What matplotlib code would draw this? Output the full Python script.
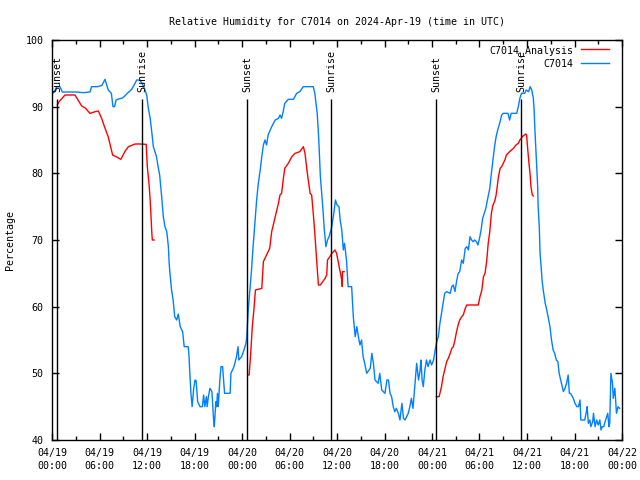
import numpy as np
import matplotlib
matplotlib.use("Agg")
import matplotlib.pyplot as plt

title = "Relative Humidity for C7014 on 2024-Apr-19 (time in UTC)"
ylabel = "Percentage"
tick_hours = list(range(0, 73, 6))
tick_labels = ["04/19\n00:00", "04/19\n06:00", "04/19\n12:00", "04/19\n18:00",
               "04/20\n00:00", "04/20\n06:00", "04/20\n12:00", "04/20\n18:00",
               "04/21\n00:00", "04/21\n06:00", "04/21\n12:00", "04/21\n18:00",
               "04/22\n00:00"]
sun_hours = [0.67, 11.4, 24.67, 35.28, 48.54, 59.28]
sun_labels = ["Sunset", "Sunrise", "Sunset", "Sunrise", "Sunset", "Sunrise"]

# C7014 observed (hours since 04/19 00:00 UTC, %)
blue_h = [0.1, 0.25, 0.6, 1.0, 1.3, 1.85, 3.0, 4.0, 4.8, 5.0, 5.8, 6.3, 6.7, 6.9, 7.1, 7.5, 7.7, 7.9,
          8.1, 8.4, 8.9, 9.2, 9.5, 9.8, 10.06, 10.4, 10.7, 11.1, 11.5, 11.75, 11.96, 12.17, 12.4, 12.6,
          12.8, 13.2, 13.4, 13.6, 13.85, 14.06, 14.27, 14.5, 14.7, 14.8, 14.9, 15.1, 15.3, 15.5, 15.75,
          15.95, 16.2, 16.5, 16.7, 17.2, 17.3, 17.4, 17.55, 17.7, 17.9, 18.06, 18.2, 18.4, 18.7, 19.0,
          19.15, 19.3, 19.5, 19.6, 19.75, 19.95, 20.2, 20.4, 20.5, 20.7, 20.8, 20.9, 21.0, 21.2, 21.35,
          21.55, 21.8, 22.5, 22.6, 22.9, 23.1, 23.3, 23.5, 23.6, 23.95, 24.25, 24.5, 24.6, 24.8, 25.0,
          25.2, 25.4, 25.65, 25.85, 26.06, 26.3, 26.5, 26.7, 26.9, 27.1, 27.3, 27.75, 28.2, 28.6, 28.8,
          29.0, 29.2, 29.4, 29.85, 30.5, 30.9, 31.3, 31.75, 33.0, 33.2, 33.5, 33.7, 33.9, 34.2, 34.4,
          34.6, 34.8, 35.0, 35.3, 35.6, 35.8, 36.0, 36.25, 36.4, 36.6, 36.8, 36.95, 37.2, 37.4, 37.85,
          38.06, 38.3, 38.5, 38.7, 38.9, 39.1, 39.3, 39.5, 39.75, 40.2, 40.4, 40.6, 40.8, 41.2, 41.4,
          41.65, 42.06, 42.3, 42.5, 42.7, 42.9, 43.1, 43.3, 43.5, 43.75, 43.95, 44.2, 44.4, 44.6, 44.8,
          45.0, 45.2, 45.4, 45.6, 45.85, 46.06, 46.3, 46.5, 46.6, 46.75, 46.9, 47.1, 47.3, 47.5, 47.75,
          47.95, 48.2, 48.4, 48.6, 48.8, 49.0, 49.2, 49.4, 49.6, 49.85, 50.3, 50.5, 50.7, 50.9, 51.1,
          51.3, 51.5, 51.75, 51.95, 52.2, 52.4, 52.6, 52.8, 53.0, 53.2, 53.4, 53.6, 53.8, 54.0, 54.2,
          54.4, 54.6, 54.8, 55.0, 55.3, 55.5, 55.7, 55.9, 56.1, 56.3, 56.6, 56.8, 57.0, 57.6, 57.8,
          58.0, 58.7, 58.9, 59.1, 59.3, 59.7, 59.9, 60.2, 60.4, 60.6, 60.8, 60.9, 61.0, 61.2, 61.35,
          61.4, 61.55, 61.65, 61.8, 61.9, 62.05, 62.3, 62.5, 62.7, 62.9, 63.1, 63.3, 63.5, 63.7, 63.9,
          64.06, 64.3, 64.45, 64.6, 64.8, 65.0, 65.2, 65.35, 65.5, 65.85, 66.06, 66.3, 66.5, 66.7,
          66.8, 67.3, 67.5, 67.6, 67.75, 67.95, 68.06, 68.3, 68.4, 68.6, 68.8, 69.0, 69.2, 69.35, 69.5,
          69.7, 69.8, 70.06, 70.2, 70.35, 70.45, 70.6, 70.8, 70.9, 71.1, 71.3, 71.5, 71.7]
blue_v = [92.0, 92.2, 93.0, 93.0, 92.2, 92.2, 92.2, 92.1, 92.2, 93.0, 93.0, 93.2, 94.1, 93.3, 92.5, 92.0, 90.0, 90.0,
          91.0, 91.15, 91.3, 91.6, 92.0, 92.3, 92.6, 93.3, 94.0, 94.0, 93.2, 92.5, 91.75, 89.75, 88.25, 86.25,
          84.0, 82.5, 81.0, 79.75, 76.5, 73.5, 72.0, 71.25, 69.0, 66.5, 65.0, 62.5, 61.0, 58.5, 58.0,
          58.9, 57.0, 56.25, 54.0, 54.0, 52.75, 50.25, 47.0, 45.0, 47.75, 49.0, 48.9, 45.75, 45.0, 45.0,
          46.75, 45.0, 46.5, 45.0, 46.5, 47.75, 47.25, 43.25, 42.0, 45.75, 45.0, 47.0, 45.0, 49.0, 51.0,
          51.0, 47.0, 47.0, 50.0, 50.75, 51.5, 52.5, 54.0, 52.0, 52.5, 53.5, 54.5, 55.5, 59.75, 62.5,
          65.5, 69.0, 73.0, 76.0, 78.5, 80.5, 82.5, 84.25, 85.0, 84.25, 85.75, 87.0, 88.0, 88.25, 88.75,
          88.25, 89.25, 90.5, 91.1, 91.1, 92.0, 92.25, 93.0, 93.0, 92.0, 89.0, 85.0, 79.5, 75.0, 71.5,
          69.0, 70.0, 70.5, 71.75, 74.0, 76.0, 75.25, 75.0, 73.0, 71.5, 68.5, 69.5, 67.0, 63.0, 63.0,
          58.5, 55.5, 57.0, 55.5, 54.25, 55.0, 52.5, 51.5, 50.0, 50.75, 53.0, 51.5, 49.0, 48.5, 50.0,
          47.5, 47.0, 49.0, 49.0, 47.0, 46.5, 45.0, 44.25, 44.75, 44.0, 43.0, 45.5, 43.25, 43.0, 43.5,
          44.0, 45.0, 46.25, 44.75, 48.5, 51.5, 49.0, 50.5, 52.0, 49.0, 48.0, 50.5, 52.0, 51.0, 52.0,
          51.25, 52.0, 53.5, 54.75, 55.5, 57.5, 59.0, 60.5, 62.0, 62.25, 62.0, 63.0, 63.25, 62.25, 63.75,
          65.0, 65.25, 67.0, 66.5, 68.75, 69.0, 68.5, 70.5, 70.0, 69.75, 70.0, 69.75, 69.25, 70.25, 71.5,
          73.25, 74.0, 74.75, 76.0, 77.75, 80.0, 82.0, 84.0, 85.5, 86.5, 87.75, 88.75, 89.0, 89.0, 88.0,
          89.0, 89.0, 90.0, 91.25, 92.0, 92.0, 92.5, 92.25, 93.0, 92.5, 91.25, 89.5, 86.5, 81.5, 78.0,
          75.25, 72.0, 68.0, 65.75, 64.0, 62.5, 60.5, 59.5, 58.25, 57.0, 55.0, 53.5, 53.0, 52.0, 51.75,
          50.0, 48.75, 48.0, 47.25, 47.75, 48.5, 49.75, 47.0, 47.0, 46.25, 45.5, 45.0, 45.0, 46.0,
          43.0, 43.0, 44.25, 45.0, 42.5, 43.0, 42.0, 42.75, 44.0, 42.0, 43.0, 42.25, 43.0, 41.5, 42.0,
          42.0, 42.5, 43.5, 44.0, 42.0, 42.5, 50.0, 48.5, 46.25, 47.75, 44.0, 45.0, 44.75]

# C7014_Analysis (NaN separates the three pieces)
red_h = [0.67, 0.9, 1.64, 2.9, 3.75, 4.2, 4.8, 5.45, 5.85, 6.27, 6.7, 7.1, 7.4, 7.66, 8.1, 8.7, 9.2,
         9.65, 10.5, 11.1, 11.9, 12.04, 12.25, 12.4, 12.5, 12.6, 12.67, 12.9,
         np.nan,
         24.75, 24.9, 25.1, 25.3, 25.5, 25.7, 26.5, 26.7, 27.1, 27.5, 27.75, 28.2, 28.6, 28.8, 29.0,
         29.2, 29.4, 29.85, 30.3, 30.7, 31.3, 31.75, 31.96, 32.2, 32.4, 32.6, 32.8, 33.0, 33.2, 33.4,
         33.65, 33.9, 34.5, 34.7, 34.8, 35.1, 35.35, 35.75, 35.95, 36.15, 36.4, 36.6, 36.67, 36.7, 36.9,
         np.nan,
         48.55, 48.9, 49.2, 49.4, 49.6, 49.85, 50.06, 50.3, 50.5, 50.7, 50.9, 51.1, 51.3, 51.5, 51.75,
         51.95, 52.2, 52.4, 53.85, 54.06, 54.3, 54.5, 54.7, 54.9, 55.1, 55.3, 55.5, 55.7, 55.9, 56.1,
         56.4, 56.6, 56.8, 57.0, 57.2, 57.4, 57.8, 58.3, 58.6, 58.9, 59.1, 59.5, 59.85, 59.95, 60.1,
         60.25, 60.4, 60.5, 60.67, 60.8]
red_v = [90.25, 90.75, 91.75, 91.75, 90.1, 89.8, 89.0, 89.25, 89.35, 88.25, 86.75, 85.5, 84.0, 82.75, 82.5, 82.1, 83.25,
         84.0, 84.4, 84.4, 84.35, 81.0, 78.5, 76.0, 73.75, 71.25, 70.0, 70.0,
         np.nan,
         49.75, 49.75, 53.0, 57.0, 59.5, 62.5, 62.75, 66.75, 67.75, 68.75, 71.25, 73.5, 75.5, 76.75, 77.0,
         79.0, 80.75, 81.5, 82.5, 83.0, 83.25, 84.0, 83.0, 80.5, 78.75, 77.0, 76.75, 74.0, 71.0, 67.5,
         63.25, 63.25, 64.25, 64.75, 67.0, 67.5, 68.0, 68.5, 68.0, 66.75, 65.25, 64.0, 63.0, 65.25, 65.25,
         np.nan,
         46.5, 46.5, 48.0, 49.5, 50.5, 51.75, 52.25, 53.0, 53.75, 54.0, 55.0, 56.25, 57.25, 58.0, 58.5,
         58.75, 59.75, 60.25, 60.25, 61.5, 62.5, 64.5, 65.0, 66.75, 69.5, 71.25, 74.0, 75.25, 75.75, 76.75,
         79.5, 80.75, 81.0, 81.5, 82.0, 82.75, 83.25, 83.75, 84.25, 84.5, 85.0, 85.6, 85.9, 85.75, 83.5,
         81.5, 79.75, 78.0, 76.75, 76.6]

plt.rcParams['font.family'] = ['DejaVu Sans Mono', 'DejaVu Sans']
plt.rcParams['font.size'] = 7.2

fig = plt.figure(figsize=(6.4, 4.8), dpi=100)
ax = fig.add_axes([52/640, 40/480, 570/640, 400/480])

ax.plot(red_h, red_v, color='#ff0000', lw=1.0, label='C7014_Analysis')
ax.plot(blue_h, blue_v, color='#0080ff', lw=1.0, label='C7014')

ax.vlines(sun_hours, 40, 91.15, color='black', lw=1.0)
for h, lab in zip(sun_hours, sun_labels):
    ax.text(h, 92.2, lab, rotation=90, ha='center', va='bottom', fontsize=7.2)

ax.set_xlim(0, 72)
ax.set_ylim(40, 100)
ax.set_xticks(tick_hours)
ax.set_xticklabels(tick_labels, linespacing=1.3)
ax.set_xticks(list(range(3, 72, 6)), minor=True)
ax.set_yticks(list(range(40, 101, 10)))
ax.tick_params(which='both', direction='in', top=True, right=True, width=1)
ax.tick_params(which='major', length=5, pad=6)
ax.tick_params(which='minor', length=3)
for s in ax.spines.values():
    s.set_linewidth(1)

ax.set_title(title, fontsize=7.2, pad=11)
ax.set_ylabel(ylabel, labelpad=8)

ax.legend(loc='upper right', bbox_to_anchor=(1 - 8/570, 1), frameon=False, markerfirst=False,
          handlelength=2.8, handletextpad=0.8, labelspacing=0.3, borderaxespad=0.3,
          borderpad=0.2, fontsize=7.2)

fig.savefig('out.png', dpi=100)
